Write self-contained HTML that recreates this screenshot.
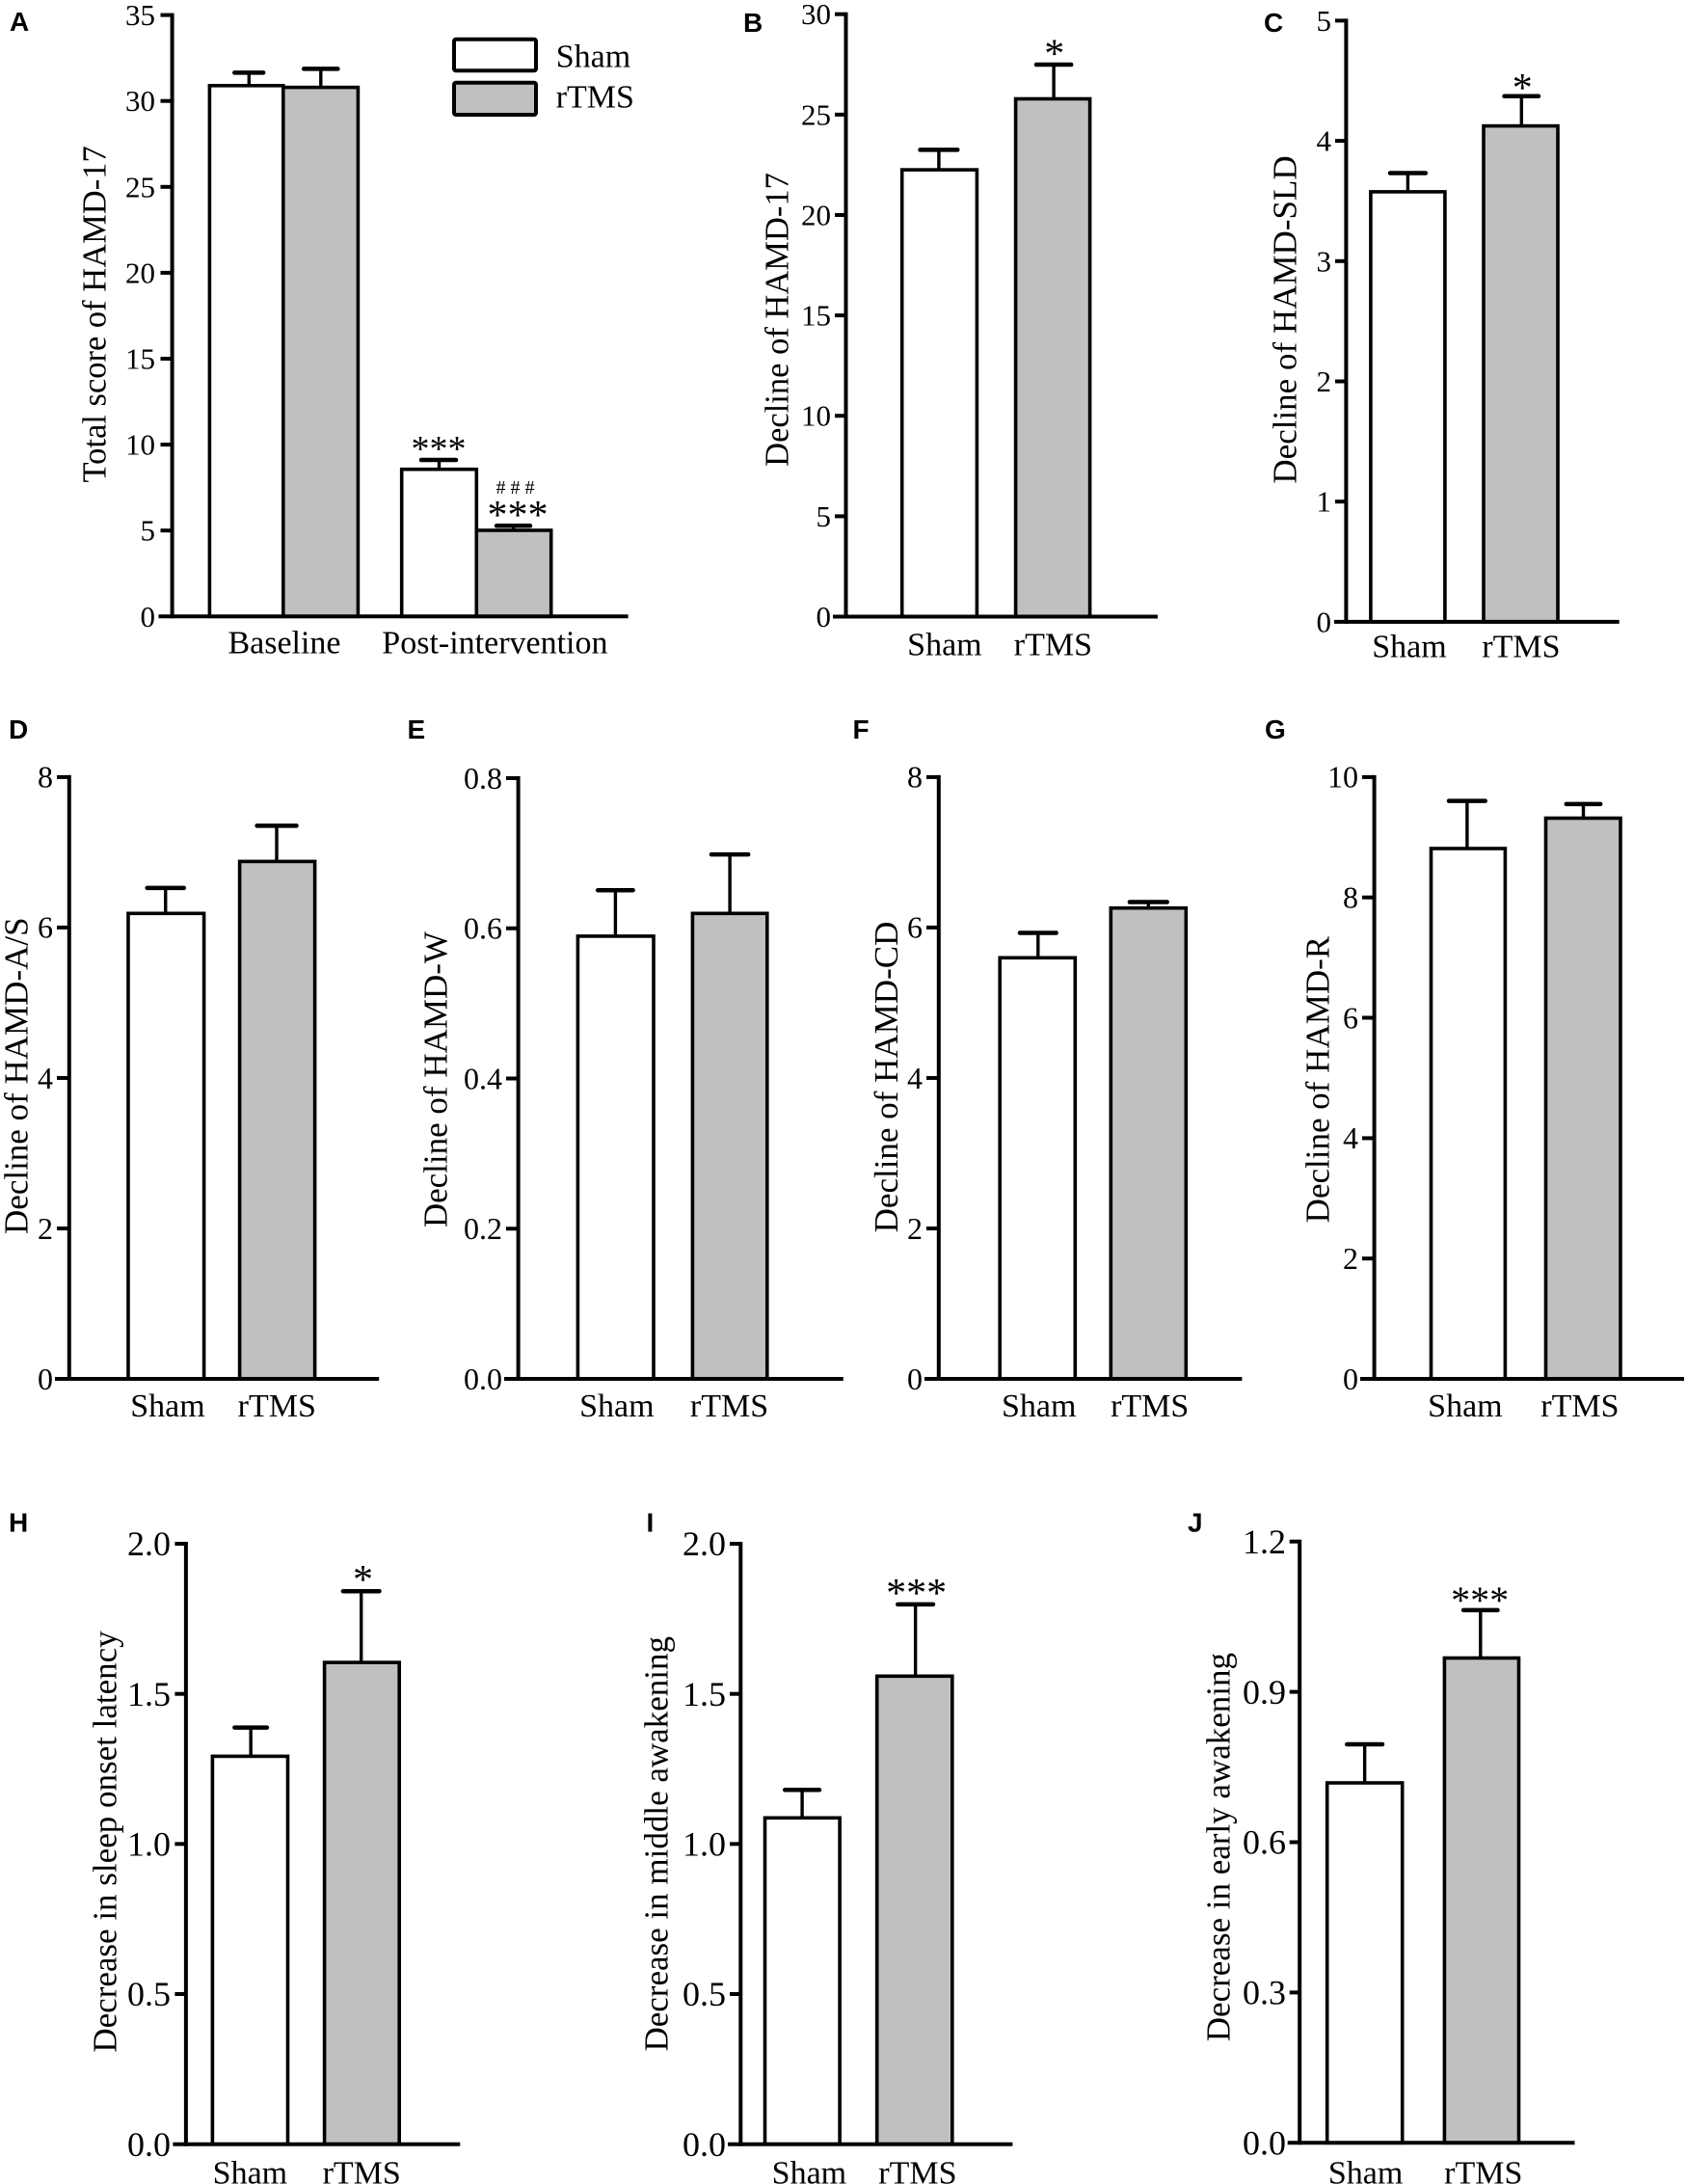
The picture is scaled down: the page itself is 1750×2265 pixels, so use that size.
<!DOCTYPE html>
<html>
<head>
<meta charset="utf-8">
<style>
html,body{margin:0;padding:0;background:#fff;}
svg{display:block;}
text{font-family:"Liberation Serif","Times New Roman",serif;fill:#000;}
.L{font-family:"Liberation Sans",Arial,sans-serif;font-weight:bold;font-size:28px;}
.ax{stroke:#000;stroke-width:4;fill:none;stroke-linecap:square;}
.tk{stroke:#000;stroke-width:4;}
.bw{fill:#fff;stroke:#000;stroke-width:3.6;}
.bg{fill:#c0c0c0;stroke:#000;stroke-width:3.6;}
.ev{stroke:#000;stroke-width:3.4;}
.cap{stroke:#000;stroke-width:4.5;stroke-linecap:round;}
.t1{font-size:31px;text-anchor:end;}
.t2{font-size:32px;text-anchor:end;}
.t3{font-size:36px;text-anchor:end;}
.xl{font-size:34px;text-anchor:middle;}
.yl{font-size:35px;text-anchor:middle;}
.st{text-anchor:middle;}
</style>
</head>
<body>
<svg width="1750" height="2265" viewBox="0 0 1750 2265" xmlns="http://www.w3.org/2000/svg">
<rect x="0" y="0" width="1750" height="2265" fill="#fff"/>

<!-- ================= Panel A ================= -->
<text class="L" x="10" y="32">A</text>
<rect class="bw" x="217.4" y="88.8" width="76.4" height="550.5"/>
<rect class="bg" x="293.8" y="90.6" width="77.6" height="548.7"/>
<rect class="bw" x="416.7" y="486.7" width="77.6" height="152.6"/>
<rect class="bg" x="494.3" y="550" width="77.4" height="89.3"/>
<line class="ev" x1="258.3" y1="88.8" x2="258.3" y2="75.4"/><line class="cap" x1="243.3" y1="75.4" x2="273.2" y2="75.4"/>
<line class="ev" x1="332.8" y1="90.6" x2="332.8" y2="71.4"/><line class="cap" x1="315.2" y1="71.4" x2="350.4" y2="71.4"/>
<line class="ev" x1="455.5" y1="486.7" x2="455.5" y2="477"/><line class="cap" x1="437" y1="477" x2="473" y2="477"/>
<line class="ev" x1="532.7" y1="550" x2="532.7" y2="545.3"/><line class="cap" x1="515" y1="545.3" x2="550" y2="545.3"/>
<line class="ax" x1="178.6" y1="15.6" x2="178.6" y2="639.3"/>
<line class="ax" x1="166.5" y1="639.3" x2="649.6" y2="639.3"/>
<g class="tk">
<line x1="166.5" y1="550.2" x2="178.6" y2="550.2"/><line x1="166.5" y1="461.1" x2="178.6" y2="461.1"/>
<line x1="166.5" y1="372" x2="178.6" y2="372"/><line x1="166.5" y1="282.9" x2="178.6" y2="282.9"/>
<line x1="166.5" y1="193.8" x2="178.6" y2="193.8"/><line x1="166.5" y1="104.7" x2="178.6" y2="104.7"/>
<line x1="166.5" y1="15.6" x2="178.6" y2="15.6"/>
</g>
<g class="t1">
<text x="161" y="649.8">0</text><text x="161" y="560.7">5</text><text x="161" y="471.6">10</text>
<text x="161" y="382.5">15</text><text x="161" y="293.4">20</text><text x="161" y="204.3">25</text>
<text x="161" y="115.2">30</text><text x="161" y="26.1">35</text>
</g>
<text class="xl" x="295" y="677.7">Baseline</text>
<text class="xl" x="513.4" y="677.7">Post-intervention</text>
<text class="yl" style="font-size:34.5px" transform="translate(109.7,325.9) rotate(-90)">Total score of HAMD-17</text>
<rect x="471" y="40.7" width="85" height="32.6" rx="2" fill="#fff" stroke="#000" stroke-width="4"/>
<rect x="471" y="85.7" width="85" height="33.3" rx="2" fill="#c0c0c0" stroke="#000" stroke-width="4"/>
<text x="576.7" y="69.3" style="font-size:34px">Sham</text>
<text x="576.7" y="111.7" style="font-size:34px">rTMS</text>
<text class="st" x="455" y="478" style="font-size:38px">***</text>
<text class="st" x="537" y="511.8" style="font-size:20px;letter-spacing:5px">###</text>
<text class="st" x="537" y="548" style="font-size:42px">***</text>

<!-- ================= Panel B ================= -->
<text class="L" x="771" y="33">B</text>
<rect class="bw" x="935.7" y="176.1" width="77.7" height="463.4"/>
<rect class="bg" x="1053.6" y="102.5" width="77" height="537"/>
<line class="ev" x1="973.9" y1="176.1" x2="973.9" y2="155.4"/><line class="cap" x1="954.5" y1="155.4" x2="993.3" y2="155.4"/>
<line class="ev" x1="1093.1" y1="102.5" x2="1093.1" y2="67"/><line class="cap" x1="1075" y1="67" x2="1111.2" y2="67"/>
<line class="ax" x1="877.5" y1="14.7" x2="877.5" y2="639.5"/>
<line class="ax" x1="866" y1="639.5" x2="1198.9" y2="639.5"/>
<g class="tk">
<line x1="866" y1="535.4" x2="877.5" y2="535.4"/><line x1="866" y1="431.2" x2="877.5" y2="431.2"/>
<line x1="866" y1="327.1" x2="877.5" y2="327.1"/><line x1="866" y1="223" x2="877.5" y2="223"/>
<line x1="866" y1="118.85" x2="877.5" y2="118.85"/><line x1="866" y1="14.7" x2="877.5" y2="14.7"/>
</g>
<g class="t1">
<text x="862" y="650">0</text><text x="862" y="545.9">5</text><text x="862" y="441.7">10</text>
<text x="862" y="337.6">15</text><text x="862" y="233.5">20</text><text x="862" y="129.3">25</text>
<text x="862" y="25.2">30</text>
</g>
<text class="xl" x="979.9" y="679.7">Sham</text>
<text class="xl" x="1092.4" y="679.7">rTMS</text>
<text class="yl" style="font-size:34.5px" transform="translate(817.5,331.5) rotate(-90)">Decline of HAMD-17</text>
<text class="st" x="1093.7" y="69.5" style="font-size:42px">*</text>

<!-- ================= Panel C ================= -->
<text class="L" x="1311" y="33">C</text>
<rect class="bw" x="1421.9" y="198.9" width="77" height="446"/>
<rect class="bg" x="1539" y="130.6" width="77" height="514.3"/>
<line class="ev" x1="1460.4" y1="198.9" x2="1460.4" y2="179.5"/><line class="cap" x1="1442" y1="179.5" x2="1478.8" y2="179.5"/>
<line class="ev" x1="1578.3" y1="130.6" x2="1578.3" y2="99.8"/><line class="cap" x1="1560.5" y1="99.8" x2="1596" y2="99.8"/>
<line class="ax" x1="1396.4" y1="21.4" x2="1396.4" y2="644.9"/>
<line class="ax" x1="1386" y1="644.9" x2="1677.7" y2="644.9"/>
<g class="tk">
<line x1="1385" y1="520.2" x2="1396.4" y2="520.2"/><line x1="1385" y1="395.5" x2="1396.4" y2="395.5"/>
<line x1="1385" y1="270.8" x2="1396.4" y2="270.8"/><line x1="1385" y1="146.1" x2="1396.4" y2="146.1"/>
<line x1="1385" y1="21.4" x2="1396.4" y2="21.4"/>
</g>
<g class="t1">
<text x="1381" y="655.4">0</text><text x="1381" y="530.7">1</text><text x="1381" y="406">2</text>
<text x="1381" y="281.3">3</text><text x="1381" y="156.6">4</text><text x="1381" y="31.9">5</text>
</g>
<text class="xl" x="1462" y="681.7">Sham</text>
<text class="xl" x="1577.9" y="681.7">rTMS</text>
<text class="yl" transform="translate(1344.5,331.5) rotate(-90)">Decline of HAMD-SLD</text>
<text class="st" x="1579.2" y="105" style="font-size:42px">*</text>

<!-- ================= Panel D ================= -->
<text class="L" x="9" y="766">D</text>
<rect class="bw" x="133" y="947.3" width="78.6" height="482.7"/>
<rect class="bg" x="248.6" y="893.4" width="78" height="536.6"/>
<line class="ev" x1="171.75" y1="947.3" x2="171.75" y2="920.9"/><line class="cap" x1="152.7" y1="920.9" x2="190.8" y2="920.9"/>
<line class="ev" x1="287" y1="893.4" x2="287" y2="856.4"/><line class="cap" x1="266.6" y1="856.4" x2="307.5" y2="856.4"/>
<line class="ax" x1="71.8" y1="805.9" x2="71.8" y2="1430"/>
<line class="ax" x1="59" y1="1430" x2="391.2" y2="1430"/>
<g class="tk">
<line x1="59" y1="1274" x2="71.8" y2="1274"/><line x1="59" y1="1117.95" x2="71.8" y2="1117.95"/>
<line x1="59" y1="961.9" x2="71.8" y2="961.9"/><line x1="59" y1="805.9" x2="71.8" y2="805.9"/>
</g>
<g class="t2">
<text x="55" y="1440.8">0</text><text x="55" y="1284.8">2</text><text x="55" y="1128.8">4</text>
<text x="55" y="972.7">6</text><text x="55" y="816.7">8</text>
</g>
<text class="xl" x="174" y="1469.2">Sham</text>
<text class="xl" x="287.3" y="1469.2">rTMS</text>
<text class="yl" transform="translate(28.5,1115.7) rotate(-90)">Decline of HAMD-A/S</text>

<!-- ================= Panel E ================= -->
<text class="L" x="422.5" y="766">E</text>
<rect class="bw" x="599.4" y="970.9" width="78.6" height="459.1"/>
<rect class="bg" x="718.4" y="947.3" width="77.4" height="482.7"/>
<line class="ev" x1="638.4" y1="970.9" x2="638.4" y2="923.2"/><line class="cap" x1="620.2" y1="923.2" x2="656.6" y2="923.2"/>
<line class="ev" x1="757.1" y1="947.3" x2="757.1" y2="886.1"/><line class="cap" x1="738" y1="886.1" x2="776.2" y2="886.1"/>
<line class="ax" x1="537.6" y1="807" x2="537.6" y2="1430"/>
<line class="ax" x1="525" y1="1430" x2="872.8" y2="1430"/>
<g class="tk">
<line x1="525" y1="1274.25" x2="537.6" y2="1274.25"/><line x1="525" y1="1118.5" x2="537.6" y2="1118.5"/>
<line x1="525" y1="962.75" x2="537.6" y2="962.75"/><line x1="525" y1="807" x2="537.6" y2="807"/>
</g>
<g class="t2">
<text x="521" y="1440.8">0.0</text><text x="521" y="1285">0.2</text><text x="521" y="1129.3">0.4</text>
<text x="521" y="973.5">0.6</text><text x="521" y="817.8">0.8</text>
</g>
<text class="xl" x="639.8" y="1469.2">Sham</text>
<text class="xl" x="756.5" y="1469.2">rTMS</text>
<text class="yl" transform="translate(463.5,1119.6) rotate(-90)">Decline of HAMD-W</text>

<!-- ================= Panel F ================= -->
<text class="L" x="884.5" y="766">F</text>
<rect class="bw" x="1037.2" y="993.3" width="78.1" height="436.7"/>
<rect class="bg" x="1152.3" y="941.7" width="78" height="488.3"/>
<line class="ev" x1="1076.8" y1="993.3" x2="1076.8" y2="967.5"/><line class="cap" x1="1058" y1="967.5" x2="1095.6" y2="967.5"/>
<line class="ev" x1="1191.3" y1="941.7" x2="1191.3" y2="935.5"/><line class="cap" x1="1171.9" y1="935.5" x2="1210.7" y2="935.5"/>
<line class="ax" x1="973.8" y1="805.9" x2="973.8" y2="1430"/>
<line class="ax" x1="961" y1="1430" x2="1286.4" y2="1430"/>
<g class="tk">
<line x1="961" y1="1274" x2="973.8" y2="1274"/><line x1="961" y1="1117.95" x2="973.8" y2="1117.95"/>
<line x1="961" y1="961.9" x2="973.8" y2="961.9"/><line x1="961" y1="805.9" x2="973.8" y2="805.9"/>
</g>
<g class="t2">
<text x="957" y="1440.8">0</text><text x="957" y="1284.8">2</text><text x="957" y="1128.8">4</text>
<text x="957" y="972.7">6</text><text x="957" y="816.7">8</text>
</g>
<text class="xl" x="1077.7" y="1469.2">Sham</text>
<text class="xl" x="1192.7" y="1469.2">rTMS</text>
<text class="yl" transform="translate(931,1117) rotate(-90)">Decline of HAMD-CD</text>

<!-- ================= Panel G ================= -->
<text class="L" x="1312" y="766">G</text>
<rect class="bw" x="1484.5" y="880" width="76.9" height="550"/>
<rect class="bg" x="1603.5" y="848.5" width="77.5" height="581.5"/>
<line class="ev" x1="1521.9" y1="880" x2="1521.9" y2="830.6"/><line class="cap" x1="1503" y1="830.6" x2="1540.7" y2="830.6"/>
<line class="ev" x1="1642.5" y1="848.5" x2="1642.5" y2="833.9"/><line class="cap" x1="1624.8" y1="833.9" x2="1660.2" y2="833.9"/>
<line class="ax" x1="1425.6" y1="805.9" x2="1425.6" y2="1430"/>
<line class="ax" x1="1413" y1="1430" x2="1745" y2="1430"/>
<g class="tk">
<line x1="1413" y1="1305.2" x2="1425.6" y2="1305.2"/><line x1="1413" y1="1180.4" x2="1425.6" y2="1180.4"/>
<line x1="1413" y1="1055.5" x2="1425.6" y2="1055.5"/><line x1="1413" y1="930.7" x2="1425.6" y2="930.7"/>
<line x1="1413" y1="805.9" x2="1425.6" y2="805.9"/>
</g>
<g class="t2">
<text x="1409" y="1440.8">0</text><text x="1409" y="1316">2</text><text x="1409" y="1191.2">4</text>
<text x="1409" y="1066.3">6</text><text x="1409" y="941.5">8</text><text x="1409" y="816.7">10</text>
</g>
<text class="xl" x="1519.9" y="1469.2">Sham</text>
<text class="xl" x="1638.9" y="1469.2">rTMS</text>
<text class="yl" transform="translate(1378.4,1119.6) rotate(-90)">Decline of HAMD-R</text>

<!-- ================= Panel H ================= -->
<text class="L" x="9" y="1588.5">H</text>
<rect class="bw" x="220.4" y="1821.4" width="78.1" height="402.3"/>
<rect class="bg" x="336.6" y="1724.1" width="77.6" height="499.6"/>
<line class="ev" x1="260.15" y1="1821.4" x2="260.15" y2="1791.6"/><line class="cap" x1="243.4" y1="1791.6" x2="276.9" y2="1791.6"/>
<line class="ev" x1="374.7" y1="1724.1" x2="374.7" y2="1650.2"/><line class="cap" x1="355.9" y1="1650.2" x2="393.5" y2="1650.2"/>
<line class="ax" x1="192.9" y1="1601" x2="192.9" y2="2223.7"/>
<line class="ax" x1="181.4" y1="2223.7" x2="475.3" y2="2223.7"/>
<g class="tk">
<line x1="181.4" y1="2068" x2="192.9" y2="2068"/><line x1="181.4" y1="1912.35" x2="192.9" y2="1912.35"/>
<line x1="181.4" y1="1756.7" x2="192.9" y2="1756.7"/><line x1="181.4" y1="1601" x2="192.9" y2="1601"/>
</g>
<g class="t3">
<text x="177" y="2235.9">0.0</text><text x="177" y="2080.2">0.5</text><text x="177" y="1924.5">1.0</text>
<text x="177" y="1768.9">1.5</text><text x="177" y="1613.2">2.0</text>
</g>
<text class="xl" x="259.4" y="2264.5">Sham</text>
<text class="xl" x="375.2" y="2264.5">rTMS</text>
<text class="yl" transform="translate(120.3,1910) rotate(-90)">Decrease in sleep onset latency</text>
<text class="st" x="376.5" y="1652" style="font-size:42px">*</text>

<!-- ================= Panel I ================= -->
<text class="L" x="670.5" y="1588.5">I</text>
<rect class="bw" x="793.5" y="1885.3" width="77.6" height="338.4"/>
<rect class="bg" x="909.7" y="1738.3" width="78.1" height="485.4"/>
<line class="ev" x1="832.1" y1="1885.3" x2="832.1" y2="1856.3"/><line class="cap" x1="814.2" y1="1856.3" x2="850" y2="1856.3"/>
<line class="ev" x1="949.65" y1="1738.3" x2="949.65" y2="1663.9"/><line class="cap" x1="931.3" y1="1663.9" x2="968" y2="1663.9"/>
<line class="ax" x1="768.3" y1="1601" x2="768.3" y2="2223.7"/>
<line class="ax" x1="757" y1="2223.7" x2="1048.4" y2="2223.7"/>
<g class="tk">
<line x1="757" y1="2068" x2="768.3" y2="2068"/><line x1="757" y1="1912.35" x2="768.3" y2="1912.35"/>
<line x1="757" y1="1756.7" x2="768.3" y2="1756.7"/><line x1="757" y1="1601" x2="768.3" y2="1601"/>
</g>
<g class="t3">
<text x="753" y="2235.9">0.0</text><text x="753" y="2080.2">0.5</text><text x="753" y="1924.5">1.0</text>
<text x="753" y="1768.9">1.5</text><text x="753" y="1613.2">2.0</text>
</g>
<text class="xl" x="839.4" y="2264.5">Sham</text>
<text class="xl" x="951.9" y="2264.5">rTMS</text>
<text class="yl" transform="translate(692.5,1912.3) rotate(-90)">Decrease in middle awakening</text>
<text class="st" x="950.6" y="1666" style="font-size:42px">***</text>

<!-- ================= Panel J ================= -->
<text class="L" x="1232" y="1588.5">J</text>
<rect class="bw" x="1376.7" y="1849" width="78" height="373.3"/>
<rect class="bg" x="1498.4" y="1719.5" width="77.1" height="502.8"/>
<line class="ev" x1="1415.65" y1="1849" x2="1415.65" y2="1809"/><line class="cap" x1="1397.3" y1="1809" x2="1434" y2="1809"/>
<line class="ev" x1="1535.8" y1="1719.5" x2="1535.8" y2="1669.9"/><line class="cap" x1="1518.1" y1="1669.9" x2="1553.5" y2="1669.9"/>
<line class="ax" x1="1348.2" y1="1598.7" x2="1348.2" y2="2222.3"/>
<line class="ax" x1="1337.7" y1="2222.3" x2="1631.5" y2="2222.3"/>
<g class="tk">
<line x1="1337.7" y1="2066.4" x2="1348.2" y2="2066.4"/><line x1="1337.7" y1="1910.5" x2="1348.2" y2="1910.5"/>
<line x1="1337.7" y1="1754.6" x2="1348.2" y2="1754.6"/><line x1="1337.7" y1="1598.7" x2="1348.2" y2="1598.7"/>
</g>
<g class="t3">
<text x="1334" y="2234.5">0.0</text><text x="1334" y="2078.6">0.3</text><text x="1334" y="1922.7">0.6</text>
<text x="1334" y="1766.8">0.9</text><text x="1334" y="1610.9">1.2</text>
</g>
<text class="xl" x="1416.6" y="2264.5">Sham</text>
<text class="xl" x="1538.8" y="2264.5">rTMS</text>
<text class="yl" transform="translate(1275.7,1915.6) rotate(-90)">Decrease in early awakening</text>
<text class="st" x="1535.1" y="1673" style="font-size:40px">***</text>
</svg>
</body>
</html>
